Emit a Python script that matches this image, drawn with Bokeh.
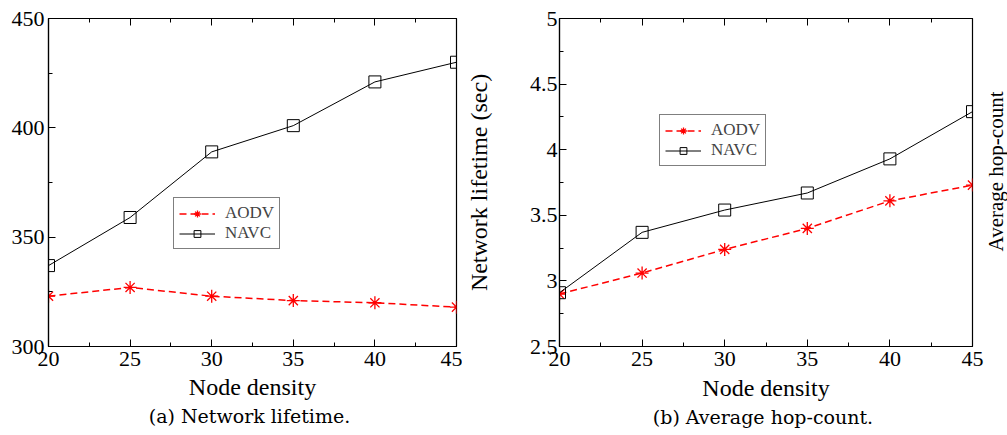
import math
from bokeh.plotting import figure
from bokeh.models import Range1d, LinearAxis, FixedTicker, Legend, LegendItem, Title, Label
from bokeh.layouts import row
from bokeh.embed import file_html
from bokeh.resources import INLINE

# ---- data ----
node_density = [20, 25, 30, 35, 40, 45]
lifetime_aodv = [323, 327, 323, 321, 320, 318]
lifetime_navc = [337, 359, 389, 401, 421, 430]
hop_aodv = [2.90, 3.06, 3.24, 3.40, 3.61, 3.73]
hop_navc = [2.91, 3.37, 3.54, 3.67, 3.93, 4.29]

x_ticks = [20, 25, 30, 35, 40, 45]
x_minor = [22.5, 27.5, 32.5, 37.5, 42.5]
life_ticks = [300, 350, 400, 450]
life_minor = [325, 375, 425]
hop_ticks = [2.5, 3, 3.5, 4, 4.5, 5]
hop_tick_labels = ["2.5", "3", "3.5", "4", "4.5", "5"]
hop_minor = [2.75, 3.25, 3.75, 4.25, 4.75]

SERIF = "Liberation Serif"
CAP = "DejaVu Serif"


def style_axis(ax, ticks, minor, show_labels=True):
    ax.ticker = FixedTicker(ticks=ticks, minor_ticks=minor)
    ax.major_tick_in = 7
    ax.major_tick_out = 0
    ax.minor_tick_in = 4
    ax.minor_tick_out = 0
    ax.axis_line_color = "black"
    ax.axis_line_width = 1.2
    ax.major_tick_line_color = "black"
    ax.minor_tick_line_color = "black"
    ax.major_label_text_font = SERIF
    ax.major_label_text_font_size = "22px"
    ax.major_label_text_color = "black"
    ax.axis_label_text_font = SERIF
    ax.axis_label_text_font_style = "normal"
    ax.axis_label_text_color = "black"
    if not show_labels:
        ax.major_label_overrides = {t: "" for t in ticks}
        ax.major_label_standoff = 0


def make_fig(width, yr, bl, br, bt, bb):
    p = figure(width=width, height=435, x_range=Range1d(20, 45), y_range=yr,
               output_backend="svg", toolbar_location=None,
               min_border_left=bl, min_border_right=br,
               min_border_top=bt, min_border_bottom=bb)
    p.grid.visible = False
    p.outline_line_color = "black"
    p.outline_line_width = 1.2
    p.background_fill_color = "white"
    p.border_fill_color = "white"
    return p


def add_series(p, aodv, navc, loc):
    r1 = p.line(node_density, aodv, line_color="#ff0000", line_dash="7 4", line_width=1.5)
    s1 = p.scatter(node_density, aodv, marker="asterisk", size=13,
                   line_color="#ff0000", line_width=1.3)
    r2 = p.line(node_density, navc, line_color="black", line_width=1)
    s2 = p.scatter(node_density, navc, marker="square", size=12,
                   fill_color=None, line_color="black", line_width=1)
    leg = Legend(items=[LegendItem(label="AODV", renderers=[r1, s1]),
                        LegendItem(label="NAVC", renderers=[r2, s2])],
                 location=loc, orientation="vertical",
                 border_line_color="black", border_line_width=1.3,
                 background_fill_color="white", background_fill_alpha=1,
                 label_text_font=SERIF, label_text_font_size="17px",
                 glyph_width=36, glyph_height=17, label_height=17,
                 spacing=0, padding=5, margin=0, label_standoff=10)
    p.add_layout(leg)


def setup(p, yticks, yminor, ystandoff, xlabel_standoff, caption, cap_offset):
    bottom = p.xaxis[0]
    left = p.yaxis[0]
    style_axis(bottom, x_ticks, x_minor)
    style_axis(left, yticks, yminor)
    bottom.major_label_standoff = 5
    left.major_label_standoff = ystandoff
    bottom.axis_label = "Node density"
    bottom.axis_label_text_font_size = "24px"
    bottom.axis_label_standoff = xlabel_standoff
    top = LinearAxis()
    style_axis(top, x_ticks, x_minor, show_labels=False)
    p.add_layout(top, "above")
    p.add_layout(Title(text=caption, align="center", offset=cap_offset,
                       text_font=CAP, text_font_size="19px",
                       text_font_style="normal", text_color="black",
                       standoff=1), "below")
    return left


# ---- panel (a) ----
p1 = make_fig(462, Range1d(300, 450), 48, 6, 18, 89)
setup(p1, life_ticks, life_minor, 4, 5, "(a)  Network lifetime.", -4)
add_series(p1, lifetime_aodv, lifetime_navc, (125, 97))

# ---- panel (b) ----
p2 = make_fig(522, Range1d(2.5, 5), 95, 12, 16, 87)
left2 = setup(p2, hop_ticks, hop_minor, 2, 6, "(b)  Average hop-count.", -20)
left2.major_label_overrides = {t: s for t, s in zip(hop_ticks, hop_tick_labels)}
left2.axis_label = "Network lifetime (sec)"
left2.axis_label_text_font_size = "24px"
left2.axis_label_standoff = 35
add_series(p2, hop_aodv, hop_navc, (100, 180))

# ---- right-hand label strip ----
p3 = figure(width=23, height=435, x_range=Range1d(0, 1), y_range=Range1d(0, 1),
            x_axis_type=None, y_axis_type=None,
            output_backend="svg", toolbar_location=None,
            min_border_left=0, min_border_right=0,
            min_border_top=0, min_border_bottom=0)
p3.grid.visible = False
p3.outline_line_color = None
p3.background_fill_color = "white"
p3.border_fill_color = "white"
p3.add_layout(Label(x=11, y=175, x_units="screen", y_units="screen",
                    text="Average hop-count", text_font=SERIF,
                    text_font_size="21px", text_color="black",
                    text_align="center", text_baseline="middle",
                    angle=math.pi / 2))

layout = row(p1, p2, p3)
open("out.html", "w").write(file_html(layout, INLINE))
